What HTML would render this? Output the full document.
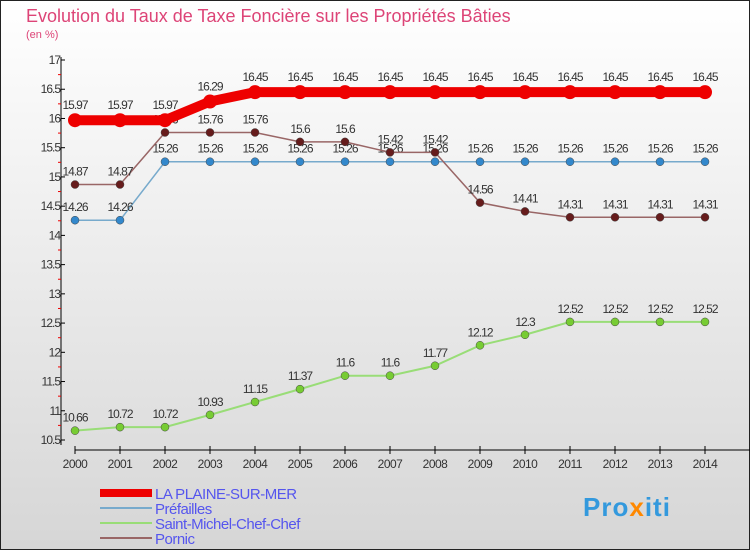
<!DOCTYPE html>
<html><head><meta charset="utf-8"><style>
html,body{margin:0;padding:0}
body{width:750px;height:550px;overflow:hidden;font-family:"Liberation Sans",sans-serif}
</style></head><body>
<svg width="750" height="550" xmlns="http://www.w3.org/2000/svg" id="svg">
<defs><linearGradient id="bg" x1="0" y1="0" x2="0" y2="1"><stop offset="0" stop-color="#ffffff"/><stop offset="1" stop-color="#d6d6d6"/></linearGradient></defs>
<rect x="0.5" y="0.5" width="749" height="549" fill="url(#bg)" stroke="#222" stroke-width="1"/>
<text x="26" y="22" font-size="18" fill="#dd4477">Evolution du Taux de Taxe Foncière sur les Propriétés Bâties</text>
<text x="26" y="38" font-size="11" fill="#dd4477">(en %)</text>
<g id="axes"></g><g id="series"></g><g id="legend"></g>
<text x="583" y="516" font-size="26" font-weight="bold" letter-spacing="1" fill="#3399dd">Pro<tspan fill="#ff8800">x</tspan>iti</text>
</svg>
<script>
const years=[2000,2001,2002,2003,2004,2005,2006,2007,2008,2009,2010,2011,2012,2013,2014];
const laPlaine=[15.97,15.97,15.97,16.29,16.45,16.45,16.45,16.45,16.45,16.45,16.45,16.45,16.45,16.45,16.45];
const prefailles=[14.26,14.26,15.26,15.26,15.26,15.26,15.26,15.26,15.26,15.26,15.26,15.26,15.26,15.26,15.26];
const stMichel=[10.66,10.72,10.72,10.93,11.15,11.37,11.6,11.6,11.77,12.12,12.3,12.52,12.52,12.52,12.52];
const pornic=[14.87,14.87,15.76,15.76,15.76,15.6,15.6,15.42,15.42,14.56,14.41,14.31,14.31,14.31,14.31];
const yTicks=[10.5,11,11.5,12,12.5,13,13.5,14,14.5,15,15.5,16,16.5,17];
const seriesNames=["LA PLAINE-SUR-MER","Préfailles","Saint-Michel-Chef-Chef","Pornic"];
const NS="http://www.w3.org/2000/svg";
const X=i=>75+45*i;
const Y=v=>440-(v-10.5)*58.46;
function mk(p,t,a){const e=document.createElementNS(NS,t);for(const k in a)e.setAttribute(k,a[k]);p.appendChild(e);return e;}
const ax=document.getElementById('axes');
let e=mk(ax,'line',{x1:61,y1:57,x2:61,y2:445,stroke:'#000'});


e=mk(ax,'line',{x1:75,y1:450,x2:750,y2:450,stroke:'#000'});


yTicks.forEach((v,i)=>{
 mk(ax,'line',{x1:61,y1:Y(v),x2:65,y2:Y(v),stroke:'#000'});
 if(i<yTicks.length-1)mk(ax,'line',{x1:58,y1:Y(v+0.25),x2:61,y2:Y(v+0.25),stroke:'#e00'});
 const t=mk(ax,'text',{x:60,y:Y(v)+4,'text-anchor':'end','font-size':12,fill:'#333','letter-spacing':'-1'});
 t.textContent=String(v);
 
 
});
years.forEach((yr,i)=>{
 mk(ax,'line',{x1:X(i),y1:446,x2:X(i),y2:454,stroke:'#000'});
 const t=mk(ax,'text',{x:X(i),y:468,'text-anchor':'middle','font-size':12,fill:'#333','letter-spacing':'-0.5'});
 t.textContent=String(yr);
 
 
});
const sg=document.getElementById('series');
const defs=[
 {d:stMichel,c:'#99dd77',w:2,r:4,f:'#77cc33',n:'saint-michel'},
 {d:prefailles,c:'#77aacc',w:1.5,r:4,f:'#3388cc',n:'prefailles'},
 {d:pornic,c:'#996666',w:1.5,r:4,f:'#661c1c',n:'pornic'},
 {d:laPlaine,c:'#ee0000',w:10,r:7,f:'#ee0000',n:'la-plaine'}];
defs.forEach(s=>{
 const g=mk(sg,'g',{});
 
 
 const l=mk(g,'polyline',{points:s.d.map((v,i)=>X(i)+','+Y(v)).join(' '),fill:'none',stroke:s.c,'stroke-width':s.w});
 
 
 s.d.forEach((v,i)=>{
  const c=mk(g,'circle',{cx:X(i),cy:Y(v),r:s.r,fill:s.f,stroke:s.w>5?'none':'#444','stroke-width':0.5});
  
  
  const t=mk(g,'text',{x:X(i),y:Y(v)-(s.w>5?11:9),'text-anchor':'middle','font-size':12,fill:'#333','letter-spacing':'-1'});
  t.textContent=String(v);
  
  
 });
});
const lg=document.getElementById('legend');
const lc=[['#ee0000',8],['#77aacc',2],['#99dd77',2],['#996666',2]];
seriesNames.forEach((n,i)=>{
 const y=493+15*i;
 const ln=mk(lg,'line',{x1:100,y1:y,x2:152,y2:y,stroke:lc[i][0],'stroke-width':lc[i][1]});
 
 
 const t=mk(lg,'text',{x:155,y:y+6,'font-size':15,fill:'#5555ee','letter-spacing':'-0.5'});
 t.textContent=n;
 
 
});
</script>
</body></html>
